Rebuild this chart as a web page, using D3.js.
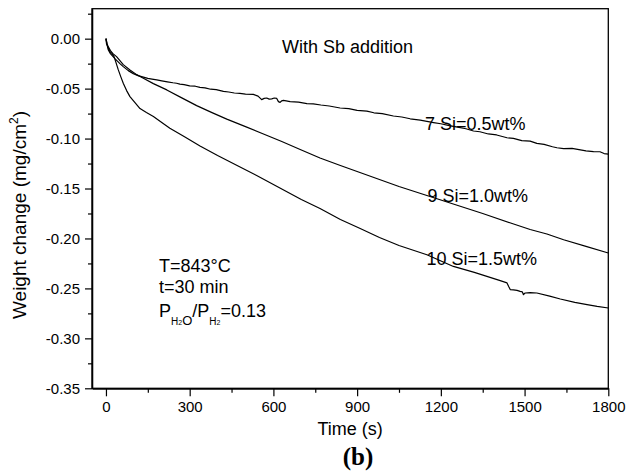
<!DOCTYPE html>
<html>
<head>
<meta charset="utf-8">
<script src="https://cdnjs.cloudflare.com/ajax/libs/d3/7.8.5/d3.min.js"></script>
<style>
  body { margin: 0; background: #fff; }
  svg { display: block; font-family: "Liberation Sans", Arial, sans-serif; }
</style>
</head>
<body>
<svg width="627" height="474"></svg>
<script>
// time (s) / weight change (mg/cm2)
const time7 = [0, 4, 8, 16, 32, 50, 62, 80, 98, 115, 134, 150, 165, 182, 200, 220, 240, 253, 265, 280,
  300, 320, 337, 355, 375, 395, 421, 440, 460, 480, 500, 528, 545, 558, 567, 576, 585, 594, 603, 612,
  618, 624, 630, 636, 660, 690, 720, 743, 770, 800, 839, 870, 900, 935, 960, 990, 1030, 1060, 1090, 1126,
  1150, 1174, 1200, 1230, 1260, 1290, 1317, 1340, 1370, 1400, 1437, 1460, 1490, 1520, 1544, 1570, 1600, 1616, 1640, 1670,
  1700, 1720, 1747, 1770, 1785, 1800];
const weight7 = [0, -0.006, -0.011, -0.015, -0.020, -0.025, -0.028, -0.032, -0.035, -0.037, -0.0385, -0.0398, -0.0405, -0.0412, -0.0422, -0.0432, -0.0441, -0.0446, -0.0455, -0.0460,
  -0.0472, -0.0476, -0.0488, -0.0492, -0.0506, -0.0510, -0.0528, -0.0534, -0.0544, -0.0548, -0.0555, -0.0558, -0.0575, -0.0610, -0.0598, -0.0594, -0.0605, -0.0602, -0.0594, -0.0598,
  -0.0630, -0.0638, -0.0622, -0.0618, -0.0630, -0.0636, -0.0650, -0.0652, -0.0664, -0.0674, -0.0694, -0.0700, -0.0718, -0.0726, -0.0742, -0.0750, -0.0774, -0.0784, -0.0802, -0.0816,
  -0.0828, -0.0840, -0.0852, -0.0870, -0.0886, -0.0902, -0.0924, -0.0932, -0.0954, -0.0964, -0.0992, -0.0998, -0.1020, -0.1026, -0.1048, -0.1058, -0.1082, -0.1092, -0.1100, -0.1098,
  -0.1114, -0.1124, -0.1130, -0.1132, -0.1150, -0.1155];

const time9 = [0, 4, 8, 16, 25, 38, 50, 62, 86, 110, 134, 170, 218, 270, 325, 380, 433, 500, 560, 630,
  696, 767, 840, 910, 980, 1050, 1150, 1250, 1350, 1450, 1520, 1580, 1640, 1720, 1800];
const weight9 = [0, -0.005, -0.008, -0.012, -0.015, -0.018, -0.022, -0.026, -0.0313, -0.036, -0.0396, -0.045, -0.0513, -0.059, -0.067, -0.074, -0.0805, -0.088, -0.095, -0.103,
  -0.111, -0.1195, -0.127, -0.134, -0.141, -0.148, -0.157, -0.166, -0.175, -0.1845, -0.191, -0.1955, -0.2013, -0.208, -0.2146];

const time10 = [0, 2, 8, 14, 22, 29, 36, 44, 53, 62, 74, 86, 104, 122, 145, 170, 200, 229, 280, 337,
  400, 470, 540, 620, 700, 767, 840, 911, 980, 1050, 1150, 1245, 1320, 1365, 1410, 1437, 1443, 1449, 1460, 1473,
  1484, 1492, 1496, 1502, 1520, 1544, 1590, 1628, 1680, 1724, 1760, 1800];
const weight10 = [0, -0.005, -0.009, -0.013, -0.015, -0.018, -0.024, -0.031, -0.038, -0.0446, -0.052, -0.058, -0.064, -0.070, -0.074, -0.078, -0.084, -0.0896, -0.098, -0.1075,
  -0.117, -0.127, -0.137, -0.149, -0.161, -0.170, -0.181, -0.190, -0.199, -0.207, -0.2163, -0.228, -0.234, -0.238, -0.242, -0.2445, -0.248, -0.2513, -0.2515, -0.252,
  -0.2530, -0.2535, -0.2563, -0.2546, -0.2542, -0.2546, -0.2578, -0.2606, -0.2640, -0.2663, -0.2680, -0.2696];

const xTicks = [0, 300, 600, 900, 1200, 1500, 1800];
const xMinor = [150, 450, 750, 1050, 1350, 1650];
const yTicks = [0, -0.05, -0.10, -0.15, -0.20, -0.25, -0.30, -0.35];
const yMinor = [0.025, -0.025, -0.075, -0.125, -0.175, -0.225, -0.275, -0.325];

const svg = d3.select("svg");
const plotLeft = 92, plotRight = 608.3, plotTop = 8.7, plotBottom = 388.3;

const x = d3.scaleLinear().domain([-50, 1800]).range([plotLeft, plotRight]);
const y = d3.scaleLinear().domain([-0.35, 0.03]).range([plotBottom, plotTop]);

// frame
svg.append("rect")
  .attr("x", plotLeft).attr("y", plotTop)
  .attr("width", plotRight - plotLeft).attr("height", plotBottom - plotTop)
  .attr("fill", "none").attr("stroke", "#000").attr("stroke-width", 1.3);

// axes
svg.append("g")
  .attr("transform", `translate(0,${plotBottom})`)
  .call(d3.axisBottom(x).tickValues(xTicks).tickSize(8).tickPadding(5.5).tickSizeOuter(0)
    .tickFormat(d => String(d)));
svg.append("g")
  .attr("transform", `translate(0,${plotBottom})`)
  .call(d3.axisBottom(x).tickValues(xMinor).tickSize(4.5).tickFormat("").tickSizeOuter(0));

svg.append("g")
  .attr("transform", `translate(${plotLeft},0)`)
  .call(d3.axisLeft(y).tickValues(yTicks).tickSize(7).tickPadding(5).tickSizeOuter(0)
    .tickFormat(d => d.toFixed(2)));
svg.append("g")
  .attr("transform", `translate(${plotLeft},0)`)
  .call(d3.axisLeft(y).tickValues(yMinor).tickSize(4).tickFormat("").tickSizeOuter(0));

svg.selectAll(".domain").attr("stroke-width", 1.3);
svg.selectAll(".tick line").attr("stroke-width", 1.2);
svg.selectAll(".tick text")
  .attr("font-family", "'Liberation Sans', Arial, sans-serif")
  .attr("font-size", 15).attr("fill", "#000");

// curves
const line = d3.line().x(d => x(d[0])).y(d => y(d[1]));
const series = [
  d3.zip(time7, weight7),
  d3.zip(time9, weight9),
  d3.zip(time10, weight10)
];
svg.selectAll(".curve")
  .data(series)
  .enter().append("path")
  .attr("class", "curve")
  .attr("d", line)
  .attr("fill", "none")
  .attr("stroke", "#000")
  .attr("stroke-width", 1.2)
  .attr("stroke-linejoin", "round");

// annotations
const note = (tx, ty, str) => svg.append("text")
  .attr("x", tx).attr("y", ty)
  .attr("font-size", 18).attr("fill", "#000")
  .text(str);

note(282, 53, "With Sb addition");
note(425, 130, "7 Si=0.5wt%");
note(427.5, 201.5, "9 Si=1.0wt%");
note(426.5, 264.5, "10 Si=1.5wt%");
note(159, 271.7, "T=843°C");
note(159, 293.3, "t=30 min");

const p = svg.append("text").attr("x", 159).attr("y", 317).attr("font-size", 18).attr("fill", "#000");
p.append("tspan").text("P");
p.append("tspan").attr("font-size", 10).attr("dy", 8).text("H");
p.append("tspan").attr("font-size", 7).text("2");
p.append("tspan").attr("font-size", 13).text("O");
p.append("tspan").attr("dy", -8).text("/P");
p.append("tspan").attr("font-size", 10).attr("dy", 8).text("H");
p.append("tspan").attr("font-size", 7).text("2");
p.append("tspan").attr("dy", -8).text("=0.13");

// axis titles
svg.append("text")
  .attr("x", (plotLeft + plotRight) / 2).attr("y", 435)
  .attr("text-anchor", "middle").attr("font-size", 18)
  .text("Time (s)");

const yt = svg.append("text")
  .attr("transform", "translate(26,215) rotate(-90)")
  .attr("text-anchor", "middle").attr("font-size", 19);
yt.append("tspan").text("Weight change (mg/cm");
yt.append("tspan").attr("font-size", 12).attr("dy", -8).text("2");
yt.append("tspan").attr("dy", 8).text(")");

svg.append("text")
  .attr("x", 358).attr("y", 465)
  .attr("text-anchor", "middle")
  .attr("font-family", "'Liberation Serif', 'Times New Roman', serif")
  .attr("font-weight", "bold").attr("font-size", 25)
  .text("(b)");
</script>
</body>
</html>
